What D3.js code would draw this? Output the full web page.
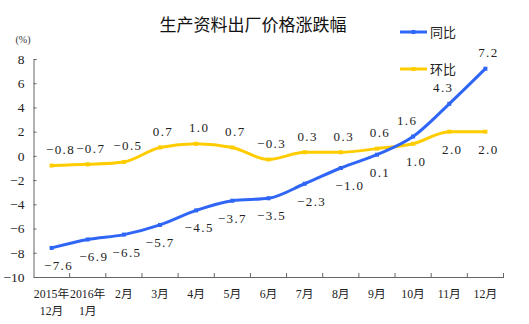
<!DOCTYPE html>
<html><head><meta charset="utf-8">
<script src="https://cdn.jsdelivr.net/npm/d3@7"></script>
<style>
body{margin:0;background:#fff;}
svg{display:block;}
</style></head>
<body><svg id="c" width="529" height="324"></svg>
<script>
const categories = ["2015年|12月","2016年|1月","2月","3月","4月","5月","6月","7月","8月","9月","10月","11月","12月"];
const yoy = [-7.6,-6.9,-6.5,-5.7,-4.5,-3.7,-3.5,-2.3,-1.0,0.1,1.6,4.3,7.2];
const mom = [-0.8,-0.7,-0.5,0.7,1.0,0.7,-0.3,0.3,0.3,0.6,1.0,2.0,2.0];
const yTicks = [8,6,4,2,0,-2,-4,-6,-8,-10];
const seriesNames = ["同比","环比"];
const title = "生产资料出厂价格涨跌幅";

const svg = d3.select("#c");
const blue = "#2f66f6", yellow = "#ffcc00";
const numFont = "'Liberation Serif','DejaVu Serif',serif";
const mixFont = "'Liberation Serif','Noto Sans CJK SC',serif";
const cjkFont = "'Noto Sans CJK SC','Noto Sans',sans-serif";

const x = d3.scaleBand().domain(categories).range([33.5,503.5]).padding(0);
const y = d3.scaleLinear().domain([-10,8]).range([277,59]);

// title
svg.append("text").attr("x",253).attr("y",31).attr("text-anchor","middle")
  .attr("font-family",cjkFont).attr("font-size",17).attr("fill","#111").text(title);

// (%)
svg.append("text").attr("x",23).attr("y",43).attr("text-anchor","middle")
  .attr("font-family",numFont).attr("font-size",10).attr("fill","#333").text("(%)");

// y axis
const yAxis = svg.append("g").attr("transform","translate(33.5,0)")
  .call(d3.axisLeft(y).tickValues(yTicks).tickSize(-3).tickPadding(9).tickFormat(d3.format("d")));
yAxis.select(".domain").attr("stroke","#666");
yAxis.selectAll(".tick line").attr("stroke","#666");
yAxis.selectAll("text").attr("font-family",numFont).attr("font-size",13.5).attr("fill","#222");

// x axis
const xAxis = svg.append("g").attr("transform","translate(0,277)")
  .call(d3.axisBottom(x).tickSize(0).tickFormat(""));
xAxis.select(".domain").attr("stroke","#666");
svg.append("g").selectAll("line").data(categories).join("line")
  .attr("x1",d=>x(d)+x.bandwidth()).attr("x2",d=>x(d)+x.bandwidth())
  .attr("y1",273).attr("y2",277).attr("stroke","#666");

const cx = d => x(d)+x.bandwidth()/2;
const xl = svg.append("g");
categories.forEach(c=>{
  c.split("|").forEach((p,k)=>{
    xl.append("text").attr("x",cx(c)).attr("y",298 + k*17).attr("text-anchor","middle")
      .attr("font-family",mixFont).attr("font-size",11.8).attr("fill","#222").text(p);
  });
});

const line = d3.line().x((d,i)=>cx(categories[i])).y(d=>y(d)).curve(d3.curveMonotoneX);

function drawSeries(vals,color){
  svg.append("path").datum(vals).attr("d",line).attr("fill","none")
    .attr("stroke",color).attr("stroke-width",3).attr("stroke-linejoin","round");
  svg.append("g").selectAll("rect").data(vals).join("rect")
    .attr("x",(d,i)=>cx(categories[i])-2).attr("y",d=>y(d)-2)
    .attr("width",4).attr("height",4).attr("fill",color);
}
drawSeries(mom,yellow);
drawSeries(yoy,blue);

// labels
const fmt = d3.format(".1f");
function labels(vals, placeAbove, nudge){
  svg.append("g").selectAll("text").data(vals).join("text")
    .attr("x",(d,i)=>cx(categories[i]) + 3 + (nudge[i]||0))
    .attr("y",(d,i)=> y(d) + (placeAbove(i) ? -16 : 17.5) + 4.5)
    .attr("text-anchor","middle").attr("font-family",numFont).attr("font-size",13)
    .attr("letter-spacing","1.4px").attr("fill","#222")
    .text(d=>fmt(d));
}
labels(mom, i => i < 10, {0:6,1:0,2:1});
labels(yoy, i => i >= 10, {0:4,1:3,3:-3,5:-3,10:-9,11:-9,7:4,8:6});

// legend
const legend = [[seriesNames[0],blue,32],[seriesNames[1],yellow,69]];
legend.forEach(([name,color,ly])=>{
  svg.append("line").attr("x1",400).attr("x2",427).attr("y1",ly).attr("y2",ly)
    .attr("stroke",color).attr("stroke-width",3);
  svg.append("rect").attr("x",411.5).attr("y",ly-2).attr("width",4).attr("height",4).attr("fill",color);
  svg.append("text").attr("x",430).attr("y",ly+5).attr("font-family",cjkFont)
    .attr("font-size",13).attr("fill","#222").text(name);
});
</script></body></html>
